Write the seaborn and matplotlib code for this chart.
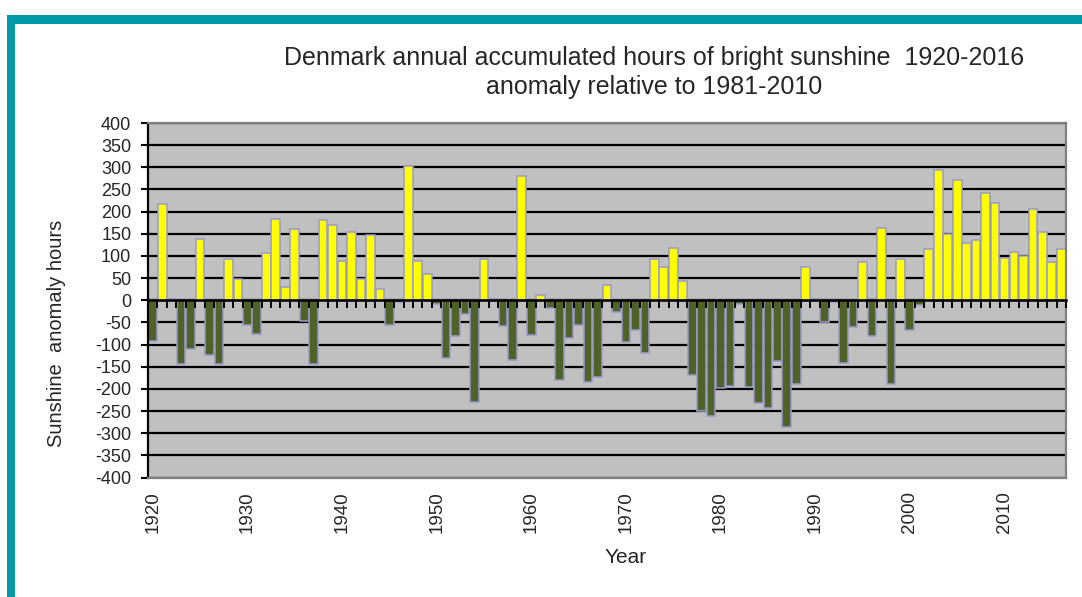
import numpy as np
import pandas as pd
import matplotlib
matplotlib.use("Agg")
import matplotlib.pyplot as plt
from matplotlib.patches import Rectangle
from matplotlib.ticker import FixedLocator
import seaborn as sns

# ---------------- data ----------------
years = list(range(1920, 2017))
anomaly = [
    -92, 218, 3, -143, -109, 138, -123, -143, 92, 47,        # 1920s
    -56, -77, 106, 184, 31, 160, -47, -143, 180, 169,        # 1930s
    89, 155, 47, 148, 25, -56, -4, 302, 89, 60,              # 1940s
    -8, -130, -80, -31, -229, 94, 3, -58, -134, 280,         # 1950s
    -79, 11, -17, -179, -86, -55, -184, -173, 34, -26,       # 1960s
    -94, -68, -119, 92, 75, 118, 44, -168, -250, -261,       # 1970s
    -199, -193, -9, -195, -231, -244, -136, -287, -190, 76,  # 1980s
    3, -49, -3, -141, -60, 86, -80, 164, -188, 92,           # 1990s
    -67, -10, 115, 293, 149, 271, 129, 135, 243, 219,        # 2000s
    96, 110, 99, 205, 153, 87, 115,                          # 2010s
]
tick_years = [1920, 1930, 1940, 1950, 1960, 1970, 1980, 1990, 2000, 2010]
y_ticks = list(range(-400, 401, 50))
title_text = ("Denmark annual accumulated hours of bright sunshine  1920-2016\n"
              "anomaly relative to 1981-2010")
x_label = "Year"
y_label = "Sunshine  anomaly hours"

df = pd.DataFrame({"Year": years, "Anomaly": anomaly})
df["Sign"] = np.where(df["Anomaly"] >= 0, "pos", "neg")

# ---------------- style ----------------
sns.set_style("white")
plt.rcParams["font.family"] = ["Liberation Sans", "DejaVu Sans"]

fig = plt.figure(figsize=(10.82, 5.97), dpi=100)
fig.patch.set_facecolor("white")

# teal frame (decoration)
teal = "#0099A8"
fig.add_artist(Rectangle((7 / 1082, 0), 8 / 1082, 1 - 15 / 597,
                         transform=fig.transFigure, color=teal, lw=0))
fig.add_artist(Rectangle((7 / 1082, 1 - 24 / 597), 1, 9 / 597,
                         transform=fig.transFigure, color=teal, lw=0))

left, right = 148 / 1082, 1066 / 1082
bottom, top = 1 - 477.5 / 597, 1 - 123 / 597
ax = fig.add_axes([left, bottom, right - left, top - bottom])
ax.set_facecolor("#C0C0C0")

sns.barplot(data=df, x="Year", y="Anomaly", hue="Sign", order=years,
            palette={"pos": "#FFFF00", "neg": "#4F6228"}, dodge=False,
            width=0.92, saturation=1, edgecolor="#9A9ACC", linewidth=1.1,
            legend=False, ax=ax, zorder=2)

ax.set_ylim(-400, 400)
ax.set_yticks(y_ticks)
ax.set_yticklabels([str(v) for v in y_ticks], fontsize=13)
ax.yaxis.grid(True, color="black", linewidth=1.6)
ax.set_axisbelow(True)

pos = [years.index(y) for y in tick_years]
ax.set_xticks(pos)
ax.set_xticklabels([str(y) for y in tick_years], rotation=90, fontsize=13.5)
ax.xaxis.set_minor_locator(FixedLocator(np.arange(-0.5, len(years), 1.0)))
ax.tick_params(axis="x", which="both", length=0, pad=10)
ax.tick_params(axis="y", which="major", length=5, width=1.5, direction="out",
               color="black", pad=7, left=True)

for s in ["top", "right", "bottom"]:
    ax.spines[s].set_color("#808080")
    ax.spines[s].set_linewidth(1.6)
ax.spines["left"].set_color("black")
ax.spines["left"].set_linewidth(1.6)

ax.set_xlabel(x_label, fontsize=15)
ax.xaxis.set_label_coords(0.52, -0.198)
ax.set_ylabel(y_label, fontsize=14.5)
ax.yaxis.set_label_coords(-0.089, 0.406)

# zero axis with category tick marks
ax2 = ax.twinx()
ax2.set_ylim(-400, 400)
ax2.set_yticks([])
ax2.xaxis.set_visible(True)
ax2.xaxis.set_ticks_position("bottom")
ax2.spines["bottom"].set_position(("data", 0))
ax2.spines["bottom"].set_color("black")
ax2.spines["bottom"].set_linewidth(1.8)
for s in ["top", "right", "left"]:
    ax2.spines[s].set_visible(False)
ax2.tick_params(axis="x", which="major", length=0, labelbottom=False)
ax2.tick_params(axis="x", which="minor", length=6, width=1.4,
                direction="out", color="black", labelbottom=False)
ax2.tick_params(axis="y", which="both", length=0, labelright=False)

fig.text(0.6045, 0.879, title_text, ha="center", va="center",
         fontsize=18, linespacing=1.25)

fig.savefig("out.png", dpi=100)
